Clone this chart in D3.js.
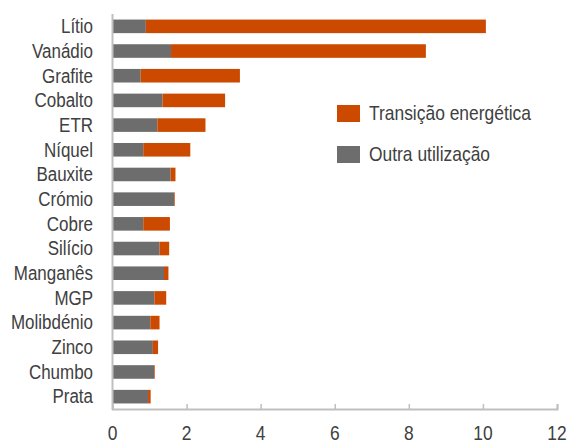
<!DOCTYPE html>
<html lang="pt">
<head>
    <meta charset="UTF-8">
    <title>Minerais - transição energética</title>
    <script src="https://d3js.org/d3.v7.min.js"></script>
    <style>
        body {
            margin: 0;
            background: #fff;
            font-family: "Liberation Sans", Arial, sans-serif;
        }
        svg {
            display: block;
        }
        text {
            fill: #404040;
        }
    </style>
</head>
<body>
    <div id="container"></div>

    <script>
        // data
        const minerals = ['Lítio','Vanádio','Grafite','Cobalto','ETR','Níquel','Bauxite','Crómio',
                          'Cobre','Silício','Manganês','MGP','Molibdénio','Zinco','Chumbo','Prata'];
        const otherUse = [0.90, 1.58, 0.76, 1.35, 1.21, 0.83, 1.57, 1.66,
                          0.83, 1.27, 1.39, 1.13, 1.02, 1.09, 1.12, 0.96];
        const transition = [9.18, 6.88, 2.68, 1.69, 1.30, 1.27, 0.13, 0.02,
                            0.72, 0.26, 0.12, 0.32, 0.25, 0.14, 0.02, 0.07];
        const xTicks = [0, 2, 4, 6, 8, 10, 12];
        const seriesNames = ['Transição energética', 'Outra utilização'];

        const width = 569, height = 441;
        const grey = '#6d6d6d', orange = '#cb4a00', axisColor = '#bfbfbf';
        // the source font is a narrow one, so squeeze the text a bit
        const squeeze = 0.87;

        const svg = d3.select('#container').append('svg')
            .attr('width', width)
            .attr('height', height);

        // scales
        const x = d3.scaleLinear().domain([0, 12]).range([112.5, 557]);
        const y = d3.scaleBand().domain(minerals).range([14, 409]).paddingInner(0.45).paddingOuter(0.225);

        const rows = minerals.map((m, i) => ({name: m, other: otherUse[i], trans: transition[i]}));

        // grey part
        svg.selectAll('.other')
            .data(rows).enter()
            .append('rect')
            .attr('class', 'other')
            .attr('x', x(0))
            .attr('y', d => y(d.name))
            .attr('width', d => x(d.other) - x(0))
            .attr('height', y.bandwidth())
            .attr('fill', grey);

        // orange part stacked after it
        svg.selectAll('.trans')
            .data(rows).enter()
            .append('rect')
            .attr('class', 'trans')
            .attr('x', d => x(d.other))
            .attr('y', d => y(d.name))
            .attr('width', d => x(d.other + d.trans) - x(d.other))
            .attr('height', y.bandwidth())
            .attr('fill', orange);

        // x axis
        const xAxis = svg.append('g')
            .attr('transform', 'translate(0,409)')
            .call(d3.axisTop(x).tickValues(xTicks).tickSize(5).tickFormat(''));
        xAxis.select('.domain').attr('stroke', axisColor).attr('stroke-width', 2);
        xAxis.selectAll('.tick line').attr('stroke', axisColor).attr('stroke-width', 1.5);

        svg.selectAll('.xlab')
            .data(xTicks).enter()
            .append('text')
            .attr('class', 'xlab')
            .attr('transform', d => 'translate(' + x(d) + ',440) scale(' + squeeze + ',1)')
            .attr('text-anchor', 'middle')
            .style('font-size', '20px')
            .text(d => d);

        // y axis line
        svg.append('line')
            .attr('x1', x(0)).attr('x2', x(0))
            .attr('y1', 14).attr('y2', 410)
            .attr('stroke', axisColor)
            .attr('stroke-width', 2);

        svg.selectAll('.ylab')
            .data(minerals).enter()
            .append('text')
            .attr('class', 'ylab')
            .attr('transform', d => 'translate(93,' + (y(d) + y.bandwidth() / 2) + ') scale(' + squeeze + ',1)')
            .attr('dy', '0.35em')
            .attr('text-anchor', 'end')
            .style('font-size', '19.5px')
            .text(d => d);

        // legend
        const legend = svg.selectAll('.legend')
            .data(seriesNames).enter()
            .append('g')
            .attr('class', 'legend')
            .attr('transform', (d, i) => 'translate(337,' + (105 + i * 41) + ')');
        legend.append('rect')
            .attr('width', 23)
            .attr('height', 17)
            .attr('fill', (d, i) => i === 0 ? orange : grey);
        legend.append('text')
            .attr('transform', 'translate(32,15) scale(0.85,1)')
            .style('font-size', '20.5px')
            .text(d => d);
    </script>
</body>
</html>
